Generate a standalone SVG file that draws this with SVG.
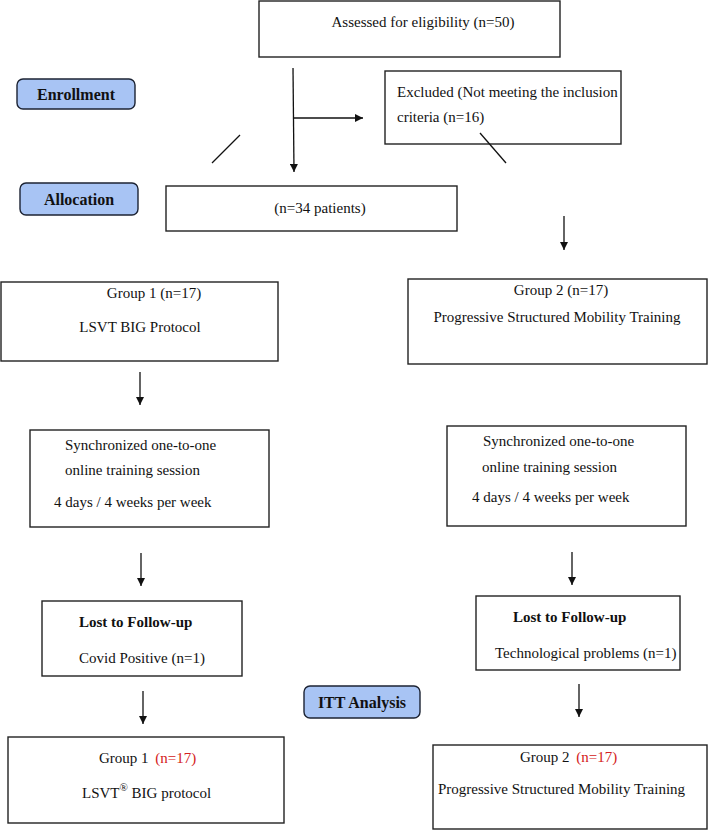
<svg xmlns="http://www.w3.org/2000/svg" width="708" height="830" viewBox="0 0 708 830">
<style>
.box{fill:#fff;stroke:#222;stroke-width:1.4}
.lab{fill:#a8c4f4;stroke:#1c2333;stroke-width:1.4}
.t{font-family:"Liberation Serif","Times New Roman",serif;font-size:15px;fill:#111}
.b{font-weight:bold}
.lb{font-size:16px;font-weight:bold}
.c{text-anchor:middle}
.red{fill:#d42020}
.ln{stroke:#111;stroke-width:1.3;fill:none}
</style>
<defs>
<marker id="ah" viewBox="0 0 10 10" refX="10" refY="5" markerWidth="8" markerHeight="8" markerUnits="userSpaceOnUse" orient="auto">
<path d="M0,0 L10,5 L0,10 z" fill="#111"/>
</marker>
</defs>
<rect width="708" height="830" fill="#fff"/>

<g id="assessed">
<rect class="box" x="259" y="1" width="301" height="56"/>
<text class="t c" x="423" y="27">Assessed for eligibility (n=50)</text>
</g>
<g id="enrollment">
<rect class="lab" x="17" y="79" width="118" height="30" rx="6"/>
<text class="t lb c" x="76" y="100">Enrollment</text>
</g>
<g id="excluded">
<rect class="box" x="385" y="71" width="236" height="73"/>
<text class="t" x="397" y="97">Excluded (Not meeting the inclusion</text>
<text class="t" x="397" y="122">criteria (n=16)</text>
</g>
<g id="allocation">
<rect class="lab" x="20" y="183" width="118" height="32" rx="6"/>
<text class="t lb c" x="79" y="205">Allocation</text>
</g>
<g id="patients">
<rect class="box" x="166" y="186" width="291" height="45"/>
<text class="t c" x="320" y="213">(n=34 patients)</text>
</g>
<g id="group1">
<rect class="box" x="1" y="282" width="277" height="79"/>
<text class="t c" x="154" y="298">Group 1 (n=17)</text>
<text class="t c" x="140" y="332">LSVT BIG Protocol</text>
</g>
<g id="group2">
<rect class="box" x="408" y="279" width="299" height="85"/>
<text class="t c" x="561" y="295">Group 2 (n=17)</text>
<text class="t c" x="557" y="322">Progressive Structured Mobility Training</text>
</g>
<g id="sync1">
<rect class="box" x="30" y="430" width="239" height="97"/>
<text class="t" x="65" y="450">Synchronized one-to-one</text>
<text class="t" x="65" y="475">online training session</text>
<text class="t" x="54" y="507">4 days / 4 weeks per week</text>
</g>
<g id="sync2">
<rect class="box" x="447" y="426" width="239" height="100"/>
<text class="t" x="483" y="446">Synchronized one-to-one</text>
<text class="t" x="482" y="472">online training session</text>
<text class="t" x="472" y="502">4 days / 4 weeks per week</text>
</g>
<g id="lost1">
<rect class="box" x="42" y="601" width="200" height="75"/>
<text class="t b" x="79" y="627">Lost to Follow-up</text>
<text class="t" x="79" y="663">Covid Positive (n=1)</text>
</g>
<g id="lost2">
<rect class="box" x="476" y="596" width="204" height="74"/>
<text class="t b" x="513" y="622">Lost to Follow-up</text>
<text class="t" x="495" y="658">Technological problems (n=1)</text>
</g>
<g id="itt">
<rect class="lab" x="304" y="686" width="116" height="32" rx="6"/>
<text class="t lb c" x="362" y="708">ITT Analysis</text>
</g>
<g id="final1">
<rect class="box" x="8" y="737" width="276" height="86"/>
<text class="t" x="99" y="763">Group 1 <tspan class="red" dx="3">(n=17)</tspan></text>
<text class="t" x="82" y="798">LSVT<tspan dy="-7" font-size="11">®</tspan><tspan dy="7"> BIG protocol</tspan></text>
</g>
<g id="final2">
<rect class="box" x="433" y="745" width="274" height="84"/>
<text class="t" x="520" y="762">Group 2 <tspan class="red" dx="3">(n=17)</tspan></text>
<text class="t" x="438" y="794">Progressive Structured Mobility Training</text>
</g>

<g id="connectors">
<line class="ln" x1="293" y1="68" x2="294" y2="172" marker-end="url(#ah)"/>
<line class="ln" x1="294" y1="118" x2="363" y2="118" marker-end="url(#ah)"/>
<line class="ln" x1="240" y1="135" x2="212" y2="163"/>
<line class="ln" x1="480" y1="133" x2="506" y2="163"/>
<line class="ln" x1="564" y1="216" x2="564" y2="250" marker-end="url(#ah)"/>
<line class="ln" x1="140" y1="372" x2="140" y2="405" marker-end="url(#ah)"/>
<line class="ln" x1="141" y1="553" x2="141" y2="586" marker-end="url(#ah)"/>
<line class="ln" x1="572" y1="552" x2="572" y2="585" marker-end="url(#ah)"/>
<line class="ln" x1="143" y1="691" x2="143" y2="724" marker-end="url(#ah)"/>
<line class="ln" x1="579" y1="684" x2="579" y2="717" marker-end="url(#ah)"/>
</g>
</svg>
